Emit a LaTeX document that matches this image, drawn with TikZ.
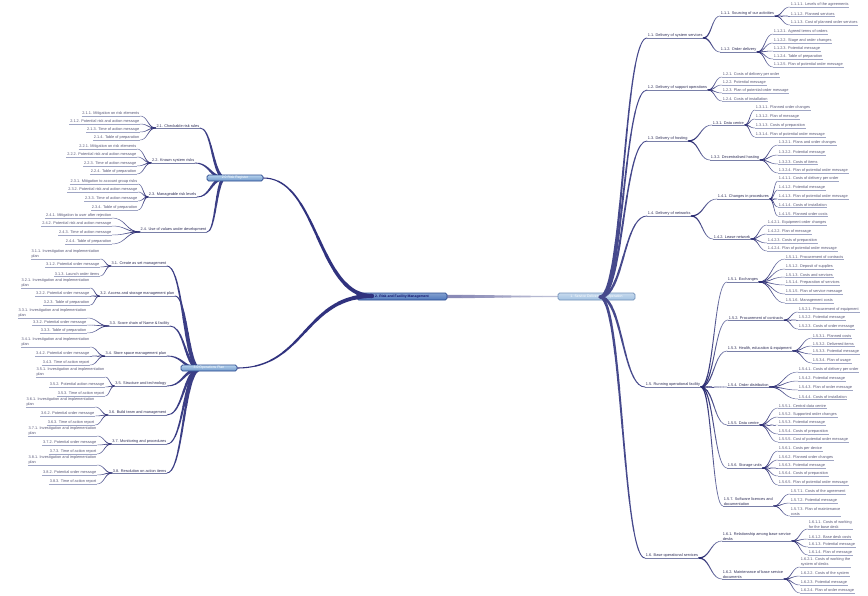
\documentclass[tikz,border=0pt]{standalone}
\usepackage{fontspec}
\setmainfont{Liberation Sans}
\pgfdeclarelayer{bg}
\pgfsetlayers{bg,main}
\definecolor{navyc}{HTML}{10106A}
\definecolor{lnkc}{HTML}{26266E}
\definecolor{fadec}{HTML}{7C82AE}
\definecolor{txtc}{HTML}{2E2E58}
\definecolor{ulc}{HTML}{7A80A8}
\definecolor{leafulc}{HTML}{A0A6C4}
\definecolor{hubd}{HTML}{2A4A90}
\definecolor{hubl}{HTML}{B8D4EE}
\definecolor{hubm}{HTML}{6E96C8}
\definecolor{rootf}{HTML}{4F78BC}
\definecolor{hubrf}{HTML}{A2C2E2}

\makeatletter
\newdimen\tcPx \newdimen\tcPy \newdimen\tcQx \newdimen\tcQy
% \tcurve{from}{to}{w0}{w1}{f}{c0}{c1}
\newcommand\tcurve[7]{%
  \tikz@scan@one@point\pgfutil@firstofone(#1)\relax
  \tcPx=\pgf@x \tcPy=\pgf@y
  \tikz@scan@one@point\pgfutil@firstofone(#2)\relax
  \tcQx=\pgf@x \tcQy=\pgf@y
  \pgfmathsetmacro\tcA{#5*(\tcQx-\tcPx)}%
  \begin{pgfscope}%
  \pgfsetroundcap
  \foreach \tci in {0,...,9}{%
    \pgfmathsetmacro\tcW{#3+(#4-#3)*(\tci+0.5)/10}%
    \pgfmathtruncatemacro\tcP{100-100*(\tci+0.5)/10}%
    \pgfmathsetmacro\tcS{\tci/10}%
    \pgfmathsetmacro\tcE{(\tci+1)/10}%
    \pgfsetlinewidth{\tcW pt}%
    \pgfsetstrokecolor{#6!\tcP!#7}%
    \pgfpathcurvebetweentime{\tcS}{\tcE}%
      {\pgfqpoint{\tcPx}{\tcPy}}%
      {\pgfpoint{\tcPx+(\tcA pt)}{\tcPy}}%
      {\pgfpoint{\tcQx-(\tcA pt)}{\tcQy}}%
      {\pgfqpoint{\tcQx}{\tcQy}}%
    \pgfusepath{stroke}%
  }%
  \end{pgfscope}%
}
\makeatother

\newcommand\leavesL[3]{%
  \foreach \lyy/\lftxt [count=\lk] in {#3}{%
    \node[LL] (#1-\lk) at (#2,\lyy) {\lftxt};
    \begin{pgfonlayer}{bg}\tcurve{#1.south west}{#1-\lk.south east}{0.6}{0.35}{0.5}{lnkc}{fadec}\end{pgfonlayer}
  }}
\newcommand\leavesR[3]{%
  \foreach \lyy/\lftxt [count=\lk] in {#3}{%
    \node[RL] (#1-\lk) at (#2,\lyy) {\lftxt};
    \begin{pgfonlayer}{bg}\tcurve{#1.south east}{#1-\lk.south west}{0.6}{0.35}{0.5}{lnkc}{fadec}\end{pgfonlayer}
  }}
\newcommand\subR[2]{%
  \begin{pgfonlayer}{bg}\tcurve{#1.south east}{#2.south west}{0.95}{0.45}{0.5}{lnkc}{fadec}\end{pgfonlayer}}

\begin{document}
\begin{tikzpicture}[x=0.75pt,y=-0.75pt,
  every node/.style={font=\fontsize{2.9}{3.3}\selectfont, text=txtc},
  lab/.style={inner xsep=0.4pt, inner ysep=0.45pt, align=left},
  L/.style={lab, anchor=south east, append after command={(\tikzlastnode.south west) edge[draw=ulc, line width=0.4pt] (\tikzlastnode.south east)}},
  R/.style={lab, anchor=south west, append after command={(\tikzlastnode.south west) edge[draw=ulc, line width=0.4pt] (\tikzlastnode.south east)}},
  LL/.style={lab, anchor=south east, text=txtc!80!white, append after command={(\tikzlastnode.south west) edge[draw=leafulc, line width=0.35pt] (\tikzlastnode.south east)}},
  RL/.style={lab, anchor=south west, text=txtc!80!white, append after command={(\tikzlastnode.south west) edge[draw=leafulc, line width=0.35pt] (\tikzlastnode.south east)}},
  hubc/.style={draw=hubd, line width=0.6pt, rounded corners=1.2pt, top color=rootf!70!white, bottom color=rootf, minimum width=67.5pt, minimum height=5.25pt, inner sep=0pt, text=navyc, font=\fontsize{2.6}{3}\selectfont\bfseries},
  hubr/.style={draw=hubm!80!gray, line width=0.5pt, rounded corners=1.2pt, top color=hubrf!60!white, bottom color=hubrf, minimum width=57.75pt, minimum height=5.25pt, inner sep=0pt, text=white, font=\fontsize{2.6}{3}\selectfont},
  hubs/.style={draw=hubd, line width=0.5pt, rounded corners=1.2pt, top color=hubl, bottom color=hubm, minimum width=42pt, minimum height=4.5pt, inner sep=0pt, text=white, font=\fontsize{2.6}{3}\selectfont}]
\begin{pgfonlayer}{bg}\fill[white] (0,0) rectangle (868,596);\end{pgfonlayer}
\useasboundingbox (0,0) rectangle (868,596);

% ---------- central nodes
\node[hubc] (C0) at (402,296.5) {2. Risk and Facility Management};
\node[hubr] (HR) at (596.5,296.5) {1. Service Delivery and Operation};
\node[hubs] (T) at (235,178) {2.0 Risk Register};
\node[hubs] (HB) at (209,368) {3.0 Operations Plan};

% ---------- left top
\node[L] (A1) at (200,128) {2.1. Checkable risk rules};
\node[L] (A2) at (195,163) {2.2. Known system risks};
\node[L] (A3) at (197,197) {2.3. Manageable risk levels};
\node[L] (A4) at (207,232) {2.4. Use of values under development};
\leavesL{A1}{140}{116/2.1.1. Mitigation on risk elements, 124/2.1.2. Potential risk and action message, 132/2.1.3. Time of action message, 140/2.1.4. Table of preparation}
\leavesL{A2}{137}{149/2.2.1. Mitigation on risk elements, 157/2.2.2. Potential risk and action message, 166/2.2.3. Time of action message, 174/2.2.4. Table of preparation}
\leavesL{A3}{138}{184/2.3.1. Mitigation to account group risks, 192/2.3.2. Potential risk and action message, 201/2.3.3. Time of action message, 210/2.3.4. Table of preparation}
\leavesL{A4}{112}{218/2.4.1. Mitigation to user after rejection, 226/2.4.2. Potential risk and action message, 235/2.4.3. Time of action message, 244/2.4.4. Table of preparation}

% ---------- left bottom
\node[L] (B1) at (167,266) {3.1. Create as set management};
\node[L] (B2) at (175,296) {3.2. Access and storage management plan};
\node[L] (B3) at (170,326) {3.3. Score chain of Name \& facility};
\node[L] (B4) at (167,356) {3.4. Store space management plan};
\node[L] (B5) at (167,386) {3.5. Structure and technology};
\node[L] (B6) at (167,415) {3.6. Build team and management};
\node[L] (B7) at (167,444) {3.7. Monitoring and procedures};
\node[L] (B8) at (167,473) {3.8. Resolution on action items};
\leavesL{B1}{100}{259/3.1.1. Investigation and implementation\\plan, 267/3.1.2. Potential order message, 276/3.1.3. Launch order items}
\leavesL{B2}{90}{288/3.2.1. Investigation and implementation\\plan, 296/3.2.2. Potential order message, 305/3.2.3. Table of preparation}
\leavesL{B3}{87}{318/3.3.1. Investigation and implementation\\plan, 325/3.3.2. Potential order message, 333/3.3.3. Table of preparation}
\leavesL{B4}{90}{347/3.4.1. Investigation and implementation\\plan, 356/3.4.2. Potential order message, 365/3.4.3. Time of action report}
\leavesL{B5}{105}{377/3.5.1. Investigation and implementation\\plan, 387/3.5.2. Potential action message, 396/3.5.3. Time of action report}
\leavesL{B6}{95}{407/3.6.1. Investigation and implementation\\plan, 416/3.6.2. Potential order message, 425/3.6.3. Time of action report}
\leavesL{B7}{97}{436/3.7.1. Investigation and implementation\\plan, 445/3.7.2. Potential order message, 454/3.7.3. Time of action report}
\leavesL{B8}{97}{465/3.8.1. Investigation and implementation\\plan, 475/3.8.2. Potential order message, 484/3.8.3. Time of action report}

% ---------- right
\node[R] (C1) at (647,38) {1.1. Delivery of system services};
\node[R] (C2) at (647,90) {1.2. Delivery of support operations};
\node[R] (C3) at (647,141) {1.3. Delivery of hosting};
\node[R] (C4) at (647,216) {1.4. Delivery of networks};
\node[R] (C5) at (645,387) {1.5. Running operational facility};
\node[R] (C6) at (645,558) {1.6. Base operational services};

\node[R] (C1a) at (720,16) {1.1.1. Sourcing of our activities};
\node[R] (C1b) at (720,52) {1.1.2. Order delivery};
\node[R] (C3a) at (712,125) {1.3.1. Data centre};
\node[R] (C3b) at (710,160) {1.3.2. Decentralised hosting};
\node[R] (C4a) at (717,199) {1.4.1. Changes in procedures};
\node[R] (C4b) at (713,239) {1.4.2. Lease network};
\node[R] (C5a) at (727,282) {1.5.1. Exchanges};
\node[R] (C5b) at (728,320) {1.5.2. Procurement of contracts};
\node[R] (C5c) at (727,351) {1.5.3. Health, education \& equipment};
\node[R] (C5d) at (727,387) {1.5.4. Order distribution};
\node[R] (C5e) at (727,425) {1.5.5. Data centre};
\node[R] (C5f) at (727,468) {1.5.6. Storage units};
\node[R] (C5g) at (723,506) {1.5.7. Software licences and\\documentation};
\node[R] (C6a) at (722,541) {1.6.1. Relationship among base service\\desks};
\node[R] (C6b) at (722,579) {1.6.2. Maintenance of base service\\documents};

\subR{C1}{C1a}\subR{C1}{C1b}
\subR{C3}{C3a}\subR{C3}{C3b}
\subR{C4}{C4a}\subR{C4}{C4b}
\subR{C5}{C5a}\subR{C5}{C5b}\subR{C5}{C5c}\subR{C5}{C5d}\subR{C5}{C5e}\subR{C5}{C5f}\subR{C5}{C5g}
\subR{C6}{C6a}\subR{C6}{C6b}

\leavesR{C1a}{790}{7/1.1.1.1. Levels of the agreements, 16/1.1.1.2. Planned services, 25/1.1.1.3. Cost of planned order services}
\leavesR{C1b}{773}{34/1.1.2.1. Agreed terms of orders, 43/1.1.2.2. Stage and order changes, 51/1.1.2.3. Potential message, 59/1.1.2.4. Table of preparation, 67/1.1.2.5. Plan of potential order message}
\leavesR{C2}{722}{77/1.2.1. Costs of delivery per order, 85/1.2.2. Potential message, 93/1.2.3. Plan of potential order message, 101/1.2.4. Costs of installation}
\leavesR{C3a}{755}{110/1.3.1.1. Planned order changes, 119/1.3.1.2. Plan of message, 128/1.3.1.3. Costs of preparation, 137/1.3.1.4. Plan of potential order message}
\leavesR{C3b}{778}{145/1.3.2.1. Plans and order changes, 155/1.3.2.2. Potential message, 164/1.3.2.3. Costs of items, 173/1.3.2.4. Plan of potential order message}
\leavesR{C4a}{778}{181/1.4.1.1. Costs of delivery per order, 190/1.4.1.2. Potential message, 199/1.4.1.3. Plan of potential order message, 207/1.4.1.4. Costs of installation, 216/1.4.1.5. Planned order costs}
\leavesR{C4b}{767}{225/1.4.2.1. Equipment order changes, 234/1.4.2.2. Plan of message, 243/1.4.2.3. Costs of preparation, 251/1.4.2.4. Plan of potential order message}
\leavesR{C5a}{785}{259/1.5.1.1. Procurement of contracts, 269/1.5.1.2. Deposit of supplies, 277/1.5.1.3. Costs and services, 285/1.5.1.4. Preparation of services, 294/1.5.1.5. Plan of service message, 303/1.5.1.6. Management costs}
\leavesR{C5b}{798}{312/1.5.2.1. Procurement of equipment, 320/1.5.2.2. Potential message, 329/1.5.2.3. Costs of order message}
\leavesR{C5c}{812}{338/1.5.3.1. Planned costs, 346/1.5.3.2. Delivered items, 354/1.5.3.3. Potential message, 363/1.5.3.4. Plan of usage}
\leavesR{C5d}{798}{372/1.5.4.1. Costs of delivery per order, 381/1.5.4.2. Potential message, 390/1.5.4.3. Plan of order message, 399/1.5.4.4. Costs of installation}
\leavesR{C5e}{778}{408/1.5.5.1. Central data centre, 417/1.5.5.2. Supported order changes, 425/1.5.5.3. Potential message, 434/1.5.5.4. Costs of preparation, 442/1.5.5.5. Cost of potential order message}
\leavesR{C5f}{778}{451/1.5.6.1. Costs per device, 460/1.5.6.2. Planned order changes, 468/1.5.6.3. Potential message, 476/1.5.6.4. Costs of preparation, 485/1.5.6.5. Plan of potential order message}
\leavesR{C5g}{790}{494/1.5.7.1. Costs of the agreement, 503/1.5.7.2. Potential message, 516/1.5.7.3. Plan of maintenance\\costs}
\leavesR{C6a}{808}{529/1.6.1.1. Costs of working\\for the base desk, 539/1.6.1.2. Base desk costs, 547/1.6.1.3. Potential message, 555/1.6.1.4. Plan of message}
\leavesR{C6b}{800}{567/1.6.2.1. Costs of working the\\system of desks, 576/1.6.2.2. Costs of the system, 585/1.6.2.3. Potential message, 593/1.6.2.4. Plan of order message}

% ---------- main branches
\begin{pgfonlayer}{bg}
\tcurve{C0.east}{HR.west}{2.6}{0.7}{0.5}{navyc}{fadec!50!white}
\foreach \n in {A1,A2,A3,A4}{\tcurve{225,178}{\n.south east}{2.6}{0.55}{0.5}{navyc}{navyc!60!fadec}}
\foreach \n in {B1,B2,B3,B4,B5,B6,B7,B8}{\tcurve{200,369}{\n.south east}{2.6}{0.55}{0.5}{navyc}{navyc!60!fadec}}
\end{pgfonlayer}
\tcurve{372,296}{T.east}{3.2}{0.7}{0.5}{navyc}{navyc!70!fadec}
\tcurve{372,296}{HB.east}{3.2}{0.7}{0.5}{navyc}{navyc!70!fadec}
\foreach \n in {C1,C2,C3,C4,C5,C6}{\tcurve{600,297}{\n.south west}{2.2}{0.55}{0.5}{navyc}{navyc!50!fadec}}
\end{tikzpicture}
\end{document}
